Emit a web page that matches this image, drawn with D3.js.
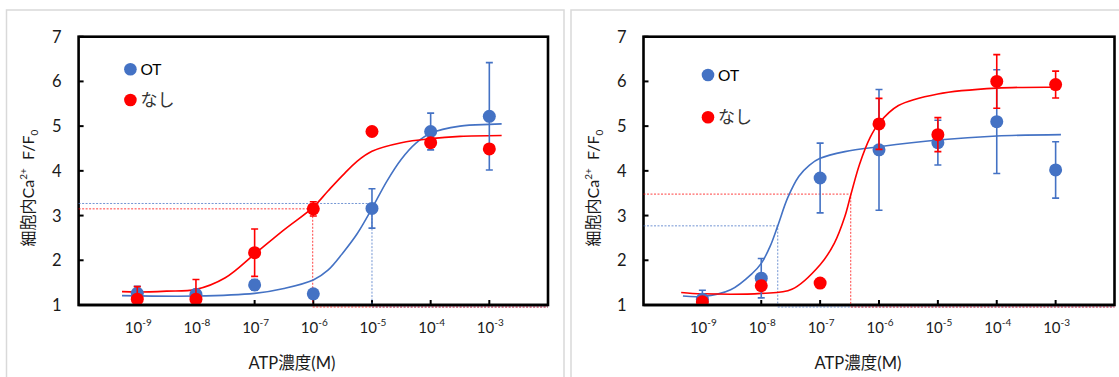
<!DOCTYPE html>
<html>
<head>
<meta charset="utf-8">
<script src="https://cdn.jsdelivr.net/npm/d3@7"></script>
<style>
  html, body { margin: 0; padding: 0; background: #ffffff; }
  svg { display: block; }
  text { font-family: Lato, "Noto Sans CJK JP", sans-serif; fill: #1a1a1a; }
</style>
</head>
<body>
<script>
// ---------- data ----------
const concExp = [-9, -8, -7, -6, -5, -4, -3];          // ATP concentration exponents (10^x M)
const yTicks = [1, 2, 3, 4, 5, 6, 7];
const seriesNames = ["OT", "なし"];

// Left panel
const L_ot = [1.26, 1.24, 1.45, 1.25, 3.16, 4.88, 5.22];
const L_otErr = [0.16, 0.06, 0.12, 0.0, 0.44, 0.41, 1.20];
const L_nashi = [1.13, 1.13, 2.17, 3.15, 4.88, 4.63, 4.49];
const L_nashiErr = [0.28, 0.44, 0.53, 0.16, 0.0, 0.08, 0.0];
const L_fitOtX = [-9.26, -8, -7, -6.5, -6, -5.75, -5.5, -5.25, -5, -4.75, -4.5, -4.25, -4, -3.5, -3, -2.79];
const L_fitOt = [1.21, 1.20, 1.26, 1.37, 1.56, 1.78, 2.16, 2.60, 3.16, 3.76, 4.26, 4.62, 4.84, 5.00, 5.04, 5.05];
const L_fitNashiX = [-9.26, -9, -8.5, -8, -7.5, -7, -6.5, -6, -5.75, -5.5, -5.25, -5, -4.5, -4, -3.5, -2.79];
const L_fitNashi = [1.30, 1.29, 1.31, 1.35, 1.61, 2.14, 2.68, 3.19, 3.55, 3.90, 4.22, 4.44, 4.63, 4.72, 4.77, 4.79];
const L_ec50Exp = [-5.0, -6.01];     // [OT, なし]
const L_ec50Val = [3.27, 3.15];

// Right panel
const R_ot = [1.13, 1.60, 3.84, 4.47, 4.63, 5.10, 4.02];
const R_otErr = [0.20, 0.44, 0.78, 1.35, 0.50, 1.16, 0.63];
const R_nashi = [1.07, 1.43, 1.49, 5.05, 4.81, 6.00, 5.93];
const R_nashiErr = [0.05, 0.10, 0.08, 0.57, 0.38, 0.60, 0.30];
const R_fitOtX = [-9.33, -9, -8.52, -8.15, -8, -7.85, -7.72, -7.55, -7.36, -7.18, -7, -6.58, -6, -5, -4, -2.91];
const R_fitOt = [1.20, 1.19, 1.34, 1.71, 1.93, 2.31, 2.77, 3.40, 3.88, 4.13, 4.28, 4.43, 4.54, 4.69, 4.78, 4.81];
const R_fitNashiX = [-9.36, -9, -8, -7.48, -7, -6.76, -6.58, -6.48, -6.33, -6.15, -6.01, -5.67, -5, -4, -2.91];
const R_fitNashi = [1.28, 1.25, 1.26, 1.35, 1.90, 2.38, 2.98, 3.46, 4.15, 4.75, 5.05, 5.46, 5.72, 5.85, 5.87];
const R_ec50Exp = [-7.72, -6.48];
const R_ec50Val = [2.77, 3.48];

const xTitle = "ATP濃度(M)";

// ---------- layout / style ----------
const W = 1119, H = 377;
const colors = ["#4472C4", "#FF0000"];
const plotTop = 36.7, plotBottom = 305;

const panels = [
  { id: "L", x0: 78.6, x1: 548, frame: [6.5, 10, 557.5], legendX: 130.4, legendY: [69.3, 100], yTitleX: 34, xTitleX: 292,
    vals: [L_ot, L_nashi], errs: [L_otErr, L_nashiErr],
    fitX: [L_fitOtX, L_fitNashiX], fitY: [L_fitOt, L_fitNashi], ecX: L_ec50Exp, ecY: L_ec50Val },
  { id: "R", x0: 643.5, x1: 1114.5, frame: [571, 10, 600], legendX: 708, legendY: [75, 117.3], yTitleX: 599, xTitleX: 858,
    vals: [R_ot, R_nashi], errs: [R_otErr, R_nashiErr],
    fitX: [R_fitOtX, R_fitNashiX], fitY: [R_fitOt, R_fitNashi], ecX: R_ec50Exp, ecY: R_ec50Val }
];

const svg = d3.select("body").append("svg").attr("width", W).attr("height", H);
svg.append("rect").attr("width", W).attr("height", H).attr("fill", "#fff");
const defs = svg.append("defs");

panels.forEach(p => {
  const g = svg.append("g");
  // light grey panel frame
  g.append("rect")
    .attr("x", p.frame[0]).attr("y", p.frame[1])
    .attr("width", p.frame[2]).attr("height", 400)
    .attr("fill", "none").attr("stroke", "#d9d9d9").attr("stroke-width", 1.5);

  const x = d3.scaleLinear().domain([-10, -2]).range([p.x0, p.x1]);
  const y = d3.scaleLinear().domain([1, 7]).range([plotBottom, plotTop]);

  defs.append("clipPath").attr("id", "clip" + p.id).append("rect")
    .attr("x", p.x0).attr("y", plotTop).attr("width", p.x1 - p.x0).attr("height", plotBottom - plotTop);

  // y tick labels
  g.selectAll(".ylab").data(yTicks).join("text")
    .attr("x", p.x0 - 17).attr("y", d => y(d)).attr("dy", "0.36em")
    .attr("text-anchor", "end").style("font-size", "16.5px").text(d => d);

  // x tick labels 10^n
  const xl = g.selectAll(".xlab").data(concExp).join("text")
    .attr("x", d => x(d) + 1).attr("y", 333)
    .attr("text-anchor", "middle").style("font-size", "15px");
  xl.append("tspan").text("10");
  xl.append("tspan").attr("dy", -7).style("font-size", "10px").text(d => d);

  // x title
  g.append("text").attr("x", p.xTitleX).attr("y", 369).attr("text-anchor", "middle")
    .style("font-size", "16.5px").text(xTitle);

  // y title (rotated)
  const yt = g.append("text")
    .attr("transform", `translate(${p.yTitleX},188) rotate(-90)`)
    .attr("text-anchor", "middle").style("font-size", "16px");
  yt.append("tspan").text("細胞内Ca");
  yt.append("tspan").attr("dy", -7).style("font-size", "10px").text("2+");
  yt.append("tspan").attr("dy", 7).text("\u00a0\u00a0F/F");
  yt.append("tspan").attr("dy", 4).style("font-size", "10px").text("0");

  // plot box
  g.append("rect").attr("x", p.x0).attr("y", plotTop)
    .attr("width", p.x1 - p.x0).attr("height", plotBottom - plotTop)
    .attr("fill", "none").attr("stroke", "#000").attr("stroke-width", 2.6);
  // ticks (inside)
  g.selectAll(".yt").data(yTicks).join("line")
    .attr("x1", p.x0).attr("x2", p.x0 + 5).attr("y1", d => y(d)).attr("y2", d => y(d))
    .attr("stroke", "#000").attr("stroke-width", 2);
  g.selectAll(".xt").data(concExp).join("line")
    .attr("x1", d => x(d)).attr("x2", d => x(d)).attr("y1", plotBottom).attr("y2", plotBottom - 5)
    .attr("stroke", "#000").attr("stroke-width", 2);

  // EC50 drop lines (dotted)
  [0, 1].forEach(i => {
    const ex = p.ecX[i], ev = p.ecY[i];
    g.append("path")
      .attr("d", `M${x(-10)},${y(ev)}H${x(ex)}V${y(1)}`)
      .attr("fill", "none").attr("stroke", colors[i]).attr("stroke-opacity", 0.75)
      .attr("stroke-width", 1).attr("stroke-dasharray", "2,1.5");
    g.append("path")
      .attr("d", `M${x(ex)},${y(1) + 2}H${x(-2)}`)
      .attr("fill", "none").attr("stroke", colors[i]).attr("stroke-opacity", 0.75)
      .attr("stroke-width", 1).attr("stroke-dasharray", "2,1.5");
  });

  const inner = g.append("g").attr("clip-path", `url(#clip${p.id})`);

  // fit curves
  const line = d3.line().x(d => x(d[0])).y(d => y(d[1])).curve(d3.curveCatmullRom.alpha(0.5));
  [0, 1].forEach(i => {
    const pts = p.fitX[i].map((v, k) => [v, p.fitY[i][k]]);
    inner.append("path").attr("d", line(pts)).attr("fill", "none")
      .attr("stroke", colors[i]).attr("stroke-width", 1.6);
  });

  // error bars + points, OT first then なし
  [0, 1].forEach(i => {
    const data = concExp.map((e, k) => ({ e, v: p.vals[i][k], err: p.errs[i][k] }));
    const eb = inner.append("g").attr("stroke", colors[i]).attr("stroke-width", 1.6);
    data.filter(d => d.err > 0).forEach(d => {
      eb.append("line").attr("x1", x(d.e)).attr("x2", x(d.e))
        .attr("y1", y(d.v - d.err)).attr("y2", y(d.v + d.err));
      [d.v - d.err, d.v + d.err].forEach(c => {
        eb.append("line").attr("x1", x(d.e) - 3.5).attr("x2", x(d.e) + 3.5)
          .attr("y1", y(c)).attr("y2", y(c));
      });
    });
    inner.selectAll(null).data(data).join("circle")
      .attr("cx", d => x(d.e)).attr("cy", d => y(d.v)).attr("r", 6.5)
      .attr("fill", colors[i]);
  });

  // redraw bottom border over clipped marks
  g.append("line").attr("x1", p.x0).attr("x2", p.x1).attr("y1", plotBottom).attr("y2", plotBottom)
    .attr("stroke", "#000").attr("stroke-width", 2.6);

  // legend
  seriesNames.forEach((name, i) => {
    g.append("circle").attr("cx", p.legendX).attr("cy", p.legendY[i]).attr("r", 6.3).attr("fill", colors[i]);
    g.append("text").attr("x", p.legendX + 10).attr("y", p.legendY[i]).attr("dy", "0.36em")
      .style("font-size", i === 0 ? "15.5px" : "17px").style("fill", i === 0 ? "#000" : "#333")
      .text(name);
  });
});
</script>
</body>
</html>
